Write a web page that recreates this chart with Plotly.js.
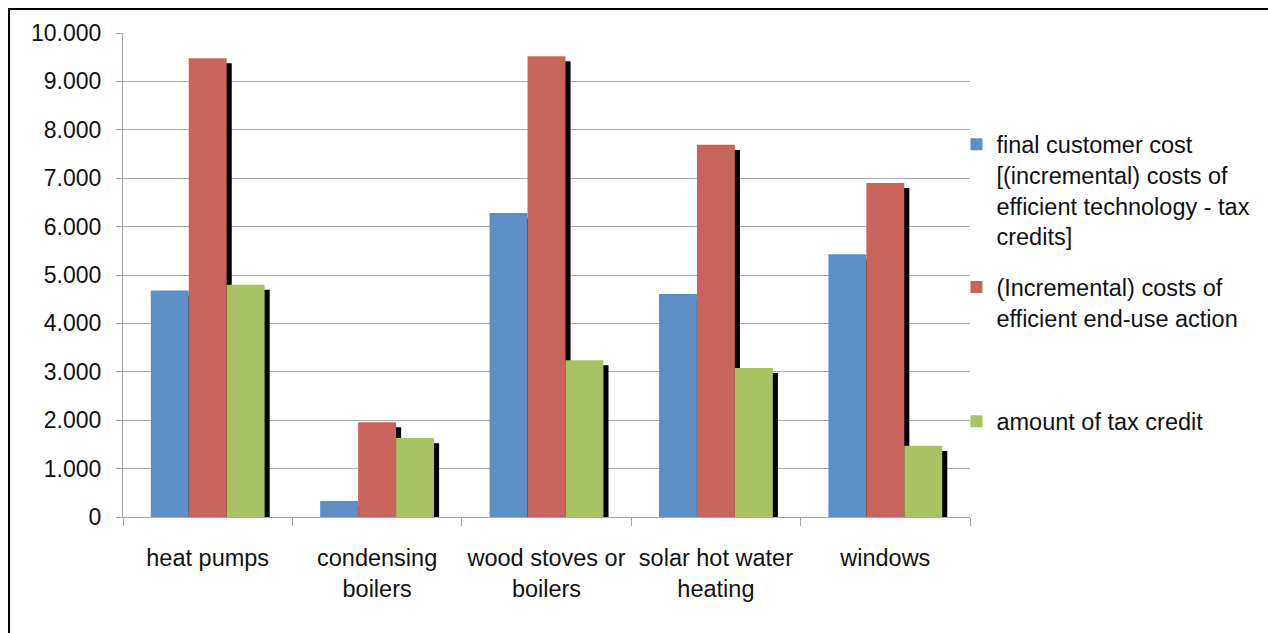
<!DOCTYPE html>
<html>
<head>
<meta charset="utf-8">
<script src="https://cdn.plot.ly/plotly-3.0.1.min.js"></script>
<style>
html,body{margin:0;padding:0;background:#fff;overflow:hidden;}
#chart{width:1268px;height:633px;}
</style>
</head>
<body>
<div id="chart"></div>
<script>
const categories = ["heat pumps", "condensing<br>boilers", "wood stoves or<br>boilers", "solar hot water<br>heating", "windows"];
const finalCustomerCost = [4680, 330, 6280, 4610, 5430];
const incrementalCost = [9480, 1960, 9520, 7690, 6900];
const taxCredit = [4800, 1630, 3240, 3080, 1470];
const seriesNames = [
  "final customer cost<br>[(incremental) costs of<br>efficient technology - tax<br>credits]",
  "(Incremental) costs of<br>efficient end-use action",
  "amount of tax credit"
];
const yTicks = [0, 1000, 2000, 3000, 4000, 5000, 6000, 7000, 8000, 9000, 10000];

const colors = ["#5b8fc6", "#c8645b", "#a8c264"];
const seriesValues = [finalCustomerCost, incrementalCost, taxCredit];
const barWidth = 0.224;
const offsets = [-0.336, -0.112, 0.112];
const shadowDx = 0.03;
const shadowDy = -105;
const legends = ["legend", "legend2", "legend3"];

const traces = [];
// shadows first (drawn behind)
seriesValues.forEach((vals, i) => {
  traces.push({
    type: "bar", x: categories, y: vals,
    base: shadowDy,
    width: barWidth, offset: offsets[i] + shadowDx,
    marker: {color: "#000000", line: {width: 0}},
    showlegend: false, hoverinfo: "skip"
  });
});
seriesValues.forEach((vals, i) => {
  traces.push({
    type: "bar", x: categories, y: vals, name: seriesNames[i],
    width: barWidth, offset: offsets[i],
    marker: {color: colors[i], line: {width: 0}},
    legend: legends[i], hoverinfo: "skip"
  });
});

const legendFont = {family: "Liberation Sans, Arial, sans-serif", size: 23.5, color: "#111111"};
const legendBase = {xanchor: "left", yanchor: "top", x: 0.984, valign: "top",
  font: legendFont, bgcolor: "rgba(0,0,0,0)", itemwidth: 30, tracegroupgap: 0};

const layout = {
  width: 1268, height: 633,
  margin: {l: 123, r: 298, t: 33, b: 116, pad: 0, autoexpand: false},
  paper_bgcolor: "#ffffff", plot_bgcolor: "#ffffff",
  barmode: "overlay",
  separators: ",.",
  font: {family: "Liberation Sans, Arial, sans-serif", size: 23, color: "#111111"},
  xaxis: {
    type: "category", range: [-0.5, 4.5],
    showline: true, linecolor: "#a6a6a6", linewidth: 1,
    ticks: "outside", tickson: "boundaries", ticklen: 8, tickcolor: "#a6a6a6",
    showgrid: false, ticklabelstandoff: 20, automargin: false,
    tickfont: {size: 23.5, color: "#111111"}
  },
  yaxis: {
    range: [0, 10000], tickvals: yTicks, tickformat: ",.0f",
    showline: true, linecolor: "#a6a6a6", linewidth: 1,
    ticks: "outside", ticklen: 6, tickcolor: "#a6a6a6",
    showgrid: true, gridcolor: "#acacac", gridwidth: 1,
    zeroline: false, ticklabelstandoff: 10, automargin: false,
    tickfont: {size: 23, color: "#111111"}
  },
  legend: Object.assign({}, legendBase, {y: 0.815}),
  legend2: Object.assign({}, legendBase, {y: 0.52}),
  legend3: Object.assign({}, legendBase, {y: 0.243}),
  shapes: [{
    type: "rect", xref: "paper", yref: "paper",
    x0: (9 - 123) / 847, x1: 1.5, y0: -0.5, y1: 1 + (33 - 9) / 484,
    line: {color: "#000000", width: 2}, fillcolor: "rgba(0,0,0,0)"
  }],
  showlegend: true
};

Plotly.newPlot("chart", traces, layout, {displayModeBar: false, staticPlot: true});
</script>
</body>
</html>
